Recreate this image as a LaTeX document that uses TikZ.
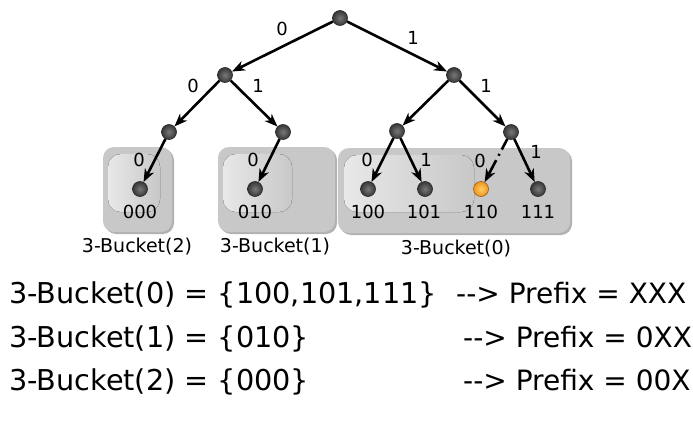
\documentclass[tikz,border=0pt]{standalone}
\usepackage{fontspec}
\setmainfont{DejaVu Sans}
\usetikzlibrary{arrows.meta}
\definecolor{bktgray}{RGB}{200,200,200}
\definecolor{bktshadow}{RGB}{178,178,178}
\definecolor{bktlight}{RGB}{232,232,232}
\definecolor{orin}{RGB}{255,205,100}
\definecolor{orout}{RGB}{238,150,30}
\definecolor{orline}{RGB}{150,90,20}
\definecolor{gyin}{RGB}{120,120,120}
\definecolor{gyout}{RGB}{55,55,55}
\begin{document}
\begin{tikzpicture}[x=1pt,y=-1pt,
  vtx/.style={circle, minimum size=15pt, inner sep=0pt, inner color=gyin, outer color=gyout, draw=black!85, line width=0.6pt},
  hit/.style={circle, minimum size=15pt, inner sep=0pt, inner color=orin, outer color=orout, draw=orline, line width=0.6pt},
  arr/.style={-{Stealth[length=13pt,width=10pt,inset=4pt]}, line width=2.6pt, black},
  lbl/.style={font=\fontsize{18}{20}\selectfont, inner sep=0pt},
  bname/.style={font=\fontsize{19}{21}\selectfont, inner sep=0pt},
  big/.style={font=\fontsize{28}{32}\selectfont, inner sep=0pt},
  bigl/.style={font=\fontsize{28.7}{32}\selectfont, inner sep=0pt},
  bucket/.style={fill=bktgray, rounded corners=11pt},
  bshadow/.style={fill=bktshadow, rounded corners=11pt},
  gloss/.style={left color=bktlight, right color=bktgray, rounded corners=13pt},
]
\useasboundingbox (0,0) rectangle (693,439);
\fill[white] (0,0) rectangle (693,439);

% buckets
\fill[bshadow] (105,149) rectangle (174,234);
\fill[bucket] (103,147) rectangle (172,232);
\fill[gloss] (108,154) rectangle (160,212);

\fill[bshadow] (220,149) rectangle (337,234);
\fill[bucket] (218,147) rectangle (335,232);
\fill[gloss] (223,154) rectangle (292,212);

\fill[bshadow] (340,150) rectangle (572,235);
\fill[bucket] (338,148) rectangle (570,233);
\fill[gloss] (344,155) rectangle (474,212);

% vertices
\node[vtx] (r) at (340,18) {};
\node[vtx] (a) at (225,75) {};
\node[vtx] (b) at (454,75) {};
\node[vtx] (aa) at (169,132) {};
\node[vtx] (ab) at (283,132) {};
\node[vtx] (ba) at (397,131) {};
\node[vtx] (bb) at (511,132) {};
\node[vtx] (l000) at (140,189) {};
\node[vtx] (l010) at (255,189) {};
\node[vtx] (l100) at (368,189) {};
\node[vtx] (l101) at (425,189) {};
\node[hit] (l110) at (481,189) {};
\node[vtx] (l111) at (538,189) {};

% edges
\draw[arr] (r) -- (a);
\draw[arr] (r) -- (b);
\draw[arr] (a) -- (aa);
\draw[arr] (a) -- (ab);
\draw[arr] (b) -- (ba);
\draw[arr] (b) -- (bb);
\draw[arr] (aa) -- (l000);
\draw[arr] (ab) -- (l010);
\draw[arr] (ba) -- (l100);
\draw[arr] (ba) -- (l101);
\draw[arr, dash pattern=on 12pt off 5pt on 2pt off 5pt on 40pt] (bb) -- (l110);
\draw[arr] (bb) -- (l111);

% edge labels
\node[lbl] (e1) at (282,29) {0};
\node[lbl] (e2) at (413,38) {1};
\node[lbl] (e3) at (193,86) {0};
\node[lbl] (e4) at (258,86) {1};
\node[lbl] (e5) at (486,86) {1};
\node[lbl] (e6) at (139,160) {0};
\node[lbl] (e7) at (253,160) {0};
\node[lbl] (e8) at (367,160) {0};
\node[lbl] (e9) at (426,160) {1};
\node[lbl] (e10) at (480,161) {0};
\node[lbl] (e11) at (536,152) {1};

% leaf labels
\node[lbl] (t000) at (140,212) {000};
\node[lbl] (t010) at (255,212) {010};
\node[lbl] (t100) at (368,212) {100};
\node[lbl] (t101) at (424,212) {101};
\node[lbl] (t110) at (481,212) {110};
\node[lbl] (t111) at (538,212) {111};

% bucket names
\node[bname] (n2) at (137,247) {3-Bucket(2)};
\node[bname] (n1) at (275,247) {3-Bucket(1)};
\node[bname] (n0) at (456,249) {3-Bucket(0)};

% summary text
\node[bigl, anchor=base west] (s0) at (9,303) {3-Bucket(0) = \{100,101,111\}};
\node[bigl, anchor=base west] (s1) at (9,347) {3-Bucket(1) = \{010\}};
\node[bigl, anchor=base west] (s2) at (9,390) {3-Bucket(2) = \{000\}};
\node[big, anchor=base west] (p0) at (456,303) {-{}-> Prefix = XXX};
\node[big, anchor=base west] (p1) at (463,347) {-{}-> Prefix = 0XX};
\node[big, anchor=base west] (p2) at (463,390) {-{}-> Prefix = 00X};
\end{tikzpicture}
\end{document}
